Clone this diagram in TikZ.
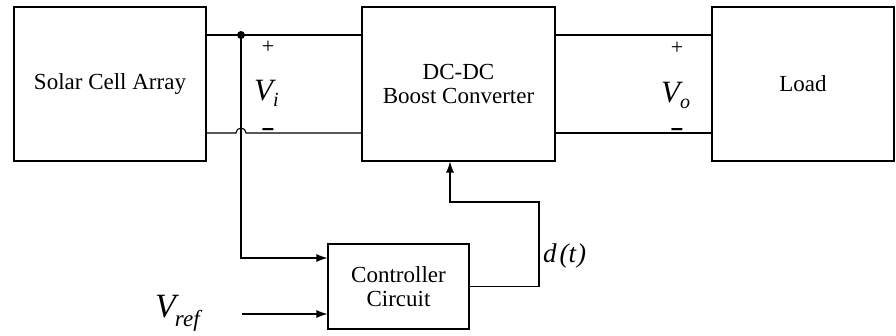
\documentclass[tikz,border=0pt]{standalone}
\usepackage{fontspec}
\setmainfont{Liberation Serif}
\newfontfamily\pmfont{Liberation Sans}
\usetikzlibrary{arrows.meta}
\begin{document}
\begin{tikzpicture}[x=1pt,y=-1pt,
  blk/.style={draw, line width=1.1pt, inner sep=0pt, align=center,
    font=\fontsize{23}{24.5}\selectfont},
  wire/.style={line width=1.1pt},
  arr/.style={line width=1.1pt, -{Latex[length=11pt,width=8pt]}},
  lbl/.style={inner sep=0pt},
  pm/.style={inner sep=0pt, text height=6pt, text depth=0pt, font=\fontsize{22}{22}\selectfont}]
\useasboundingbox (0,0) rectangle (896,335);
\node[blk, minimum width=192pt, minimum height=154pt] (solar) at (110,84) {Solar Cell Array};
\node[blk, minimum width=193pt, minimum height=154pt] (conv) at (458.5,84) {DC-DC\\Boost Converter};
\node[blk, minimum width=182pt, minimum height=154pt] (load) at (803,84) {Load};
\node[blk, minimum width=141pt, minimum height=85pt] (ctrl) at (398.5,286.5) {Controller\\Circuit};

\coordinate (j) at (241,35);
\coordinate (jb) at (241,258);
\coordinate (vr) at (242,314);
\coordinate (f1) at (539,286.5);
\coordinate (f2) at (539,202);
\coordinate (f3) at (450,202);

% power wires
\draw[wire] (solar.east |- j) -- (conv.west |- j);
\draw[wire] (solar.east |- 0,133) -- (236,133) arc[start angle=180, end angle=0, radius=5pt] -- (conv.west |- 0,133);
\draw[wire] (conv.east |- j) -- (load.west |- j);
\draw[wire] (conv.east |- 0,133) -- (load.west |- 0,133);
\fill (j) circle[radius=4pt];

% sensing and control
\draw[arr] (j) -- (jb) -- (ctrl.west |- jb);
\draw[arr] (vr) -- (ctrl.west |- vr);
\draw[arr] (ctrl.east |- f1) -- (f1) -- (f2) -- (f3) -- (f3 |- conv.south);

% labels
\node[pm, anchor=base] (p1) at (268,53) {+};
\node[pm, anchor=base] (m1) at (268,135) {\pmfont\bfseries –};
\node[pm, anchor=base] (p2) at (677,54) {+};
\node[pm, anchor=base] (m2) at (677,135) {\pmfont\bfseries –};
\node[lbl, anchor=base west] (vi) at (254,100) {\fontsize{31}{31}\selectfont\itshape V\raisebox{-6pt}{\fontsize{20}{20}\selectfont i}};
\node[lbl, anchor=base west] (vo) at (661,102) {\fontsize{31}{31}\selectfont\itshape V\raisebox{-6pt}{\fontsize{20}{20}\selectfont o}};
\node[lbl, anchor=base west] (dt) at (543,262) {\fontsize{27}{27}\selectfont\itshape d\kern3pt(t\kern1pt)};
\node[lbl, anchor=base west] (vref) at (155,317) {\fontsize{34}{34}\selectfont\itshape V\kern-1pt\raisebox{-9pt}{\fontsize{23}{23}\selectfont ref}};
\end{tikzpicture}
\end{document}
